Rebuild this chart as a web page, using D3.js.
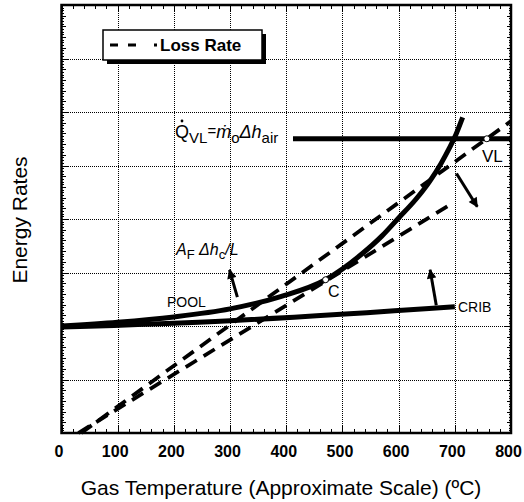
<!DOCTYPE html>
<html>
<head>
<meta charset="utf-8">
<script src="https://cdn.jsdelivr.net/npm/d3@7"></script>
<style>
  html, body { margin: 0; padding: 0; background: #fff; }
  svg { display: block; font-family: "Liberation Sans", Arial, Helvetica, sans-serif; }
</style>
</head>
<body>
<svg id="chart" width="524" height="502"></svg>
<script>
// Axis ticks
const tempTicks = [0, 100, 200, 300, 400, 500, 600, 700, 800];
const rateGrid = [1, 2, 3, 4, 5, 6, 7];

// Heat release rate, pool fire (solid)
const poolTemp = [0, 100, 200, 300, 390, 470, 535, 570, 600, 630, 655, 675, 690, 702, 714];
const poolRate = [2.00, 2.07, 2.17, 2.32, 2.55, 2.865, 3.35, 3.68, 4.02, 4.36, 4.70, 5.03, 5.32, 5.58, 5.90];

// Heat release rate, crib fire (solid)
const cribTemp = [0, 300, 700];
const cribRate = [1.98, 2.10, 2.36];

// Loss rate lines (dashed)
const lossUpperTemp = [35, 800];
const lossUpperRate = [0, 5.83];
const lossLowerTemp = [30, 695];
const lossLowerRate = [0, 4.29];

// Ventilation limit  Q_VL = m_o * dh_air
const ventTemp = [412, 800];
const ventRate = [5.5, 5.5];

// Marked points: C (critical) and VL
const pointTemp = [470, 757];
const pointRate = [2.865, 5.5];

// Shift arrows
const arrowTailTemp = [313, 667, 703];
const arrowTailRate = [2.54, 2.39, 4.85];
const arrowHeadTemp = [299, 656, 740];
const arrowHeadRate = [3.05, 3.05, 4.23];

const svg = d3.select("#chart");
const pLeft = 61.5, pRight = 511, pTop = 5, pBottom = 433;

const x = d3.scaleLinear().domain([0, 800]).range([pLeft, pRight]);
const y = d3.scaleLinear().domain([0, 8]).range([pBottom, pTop]);
const px = v => Math.round(v) + 0.5;

// dotted grid
const grid = svg.append("g").attr("stroke", "#000").attr("stroke-width", 1)
  .attr("stroke-dasharray", "1,1").attr("shape-rendering", "crispEdges");
tempTicks.slice(1, -1).forEach(t => {
  grid.append("line").attr("x1", px(x(t))).attr("x2", px(x(t))).attr("y1", pTop).attr("y2", pBottom);
});
rateGrid.forEach(r => {
  grid.append("line").attr("x1", pLeft).attr("x2", pRight).attr("y1", px(y(r))).attr("y2", px(y(r)));
});

// tick marks on all four sides, pointing inward
const ticks = svg.append("g").attr("stroke", "#000").attr("stroke-width", 1)
  .attr("shape-rendering", "crispEdges");
d3.range(0, 801, 20).forEach(t => {
  const len = t % 100 === 0 ? 7 : 4;
  ticks.append("line").attr("x1", px(x(t))).attr("x2", px(x(t))).attr("y1", pBottom).attr("y2", pBottom - len);
  ticks.append("line").attr("x1", px(x(t))).attr("x2", px(x(t))).attr("y1", pTop).attr("y2", pTop + len);
});
d3.range(0, 161).forEach(i => {
  const r = i * 0.05;
  const len = i % 20 === 0 ? 7 : (i % 4 === 0 ? 4 : 2);
  ticks.append("line").attr("x1", pLeft).attr("x2", pLeft + len).attr("y1", px(y(r))).attr("y2", px(y(r)));
  ticks.append("line").attr("x1", pRight).attr("x2", pRight - len).attr("y1", px(y(r))).attr("y2", px(y(r)));
});

// frame
svg.append("rect").attr("x", pLeft).attr("y", pTop)
  .attr("width", pRight - pLeft).attr("height", pBottom - pTop)
  .attr("fill", "none").attr("stroke", "#000").attr("stroke-width", 2.5);

// x tick labels
const xAxis = d3.axisBottom(x).tickValues(tempTicks).tickSize(0).tickPadding(13);
const gx = svg.append("g").attr("transform", `translate(-3,${pBottom})`).call(xAxis);
gx.select(".domain").remove();
gx.selectAll("text").attr("font-size", 16).attr("font-weight", "bold")
  .attr("font-family", "Liberation Sans, Arial, sans-serif").attr("fill", "#000");

// axis titles
svg.append("text").attr("x", 281).attr("y", 495).attr("text-anchor", "middle")
  .attr("font-size", 21).text("Gas Temperature (Approximate Scale) (ºC)");
svg.append("text").attr("transform", "translate(27,220) rotate(-90)")
  .attr("text-anchor", "middle").attr("font-size", 21).text("Energy Rates");

const line = d3.line().x(d => x(d[0])).y(d => y(d[1]));
const zip = (a, b) => a.map((v, i) => [v, b[i]]);

// loss rate lines
svg.append("path").datum(zip(lossUpperTemp, lossUpperRate))
  .attr("d", line).attr("fill", "none").attr("stroke", "#000")
  .attr("stroke-width", 3.8).attr("stroke-dasharray", "13,8");
svg.append("path").datum(zip(lossLowerTemp, lossLowerRate))
  .attr("d", line).attr("fill", "none").attr("stroke", "#000")
  .attr("stroke-width", 3.8).attr("stroke-dasharray", "13,8");

// heat release curves
const smooth = d3.line().x(d => x(d[0])).y(d => y(d[1])).curve(d3.curveMonotoneX);
svg.append("path").datum(zip(cribTemp, cribRate))
  .attr("d", smooth).attr("fill", "none").attr("stroke", "#000").attr("stroke-width", 5);
svg.append("path").datum(zip(poolTemp, poolRate))
  .attr("d", smooth).attr("fill", "none").attr("stroke", "#000").attr("stroke-width", 5);

// ventilation limit
svg.append("path").datum(zip(ventTemp, ventRate))
  .attr("d", line).attr("fill", "none").attr("stroke", "#000").attr("stroke-width", 5);

// arrows
const defs = svg.append("defs");
defs.append("marker").attr("id", "head").attr("viewBox", "0 0 10 10")
  .attr("refX", 9).attr("refY", 5).attr("markerWidth", 3.6).attr("markerHeight", 3.2)
  .attr("markerUnits", "strokeWidth").attr("orient", "auto")
  .append("path").attr("d", "M0,0L10,5L0,10Z").attr("fill", "#000");
arrowTailTemp.forEach((t, i) => {
  svg.append("line")
    .attr("x1", x(t)).attr("y1", y(arrowTailRate[i]))
    .attr("x2", x(arrowHeadTemp[i])).attr("y2", y(arrowHeadRate[i]))
    .attr("stroke", "#000").attr("stroke-width", 3).attr("marker-end", "url(#head)");
});

// marked points
pointTemp.forEach((t, i) => {
  svg.append("circle").attr("cx", x(t)).attr("cy", y(pointRate[i])).attr("r", 3)
    .attr("fill", "#fff").attr("stroke", "#000").attr("stroke-width", 1);
});

// annotations
svg.append("text").attr("x", 167).attr("y", 307).attr("font-size", 14).text("POOL");
svg.append("text").attr("x", 458).attr("y", 312).attr("font-size", 14).text("CRIB");
svg.append("text").attr("x", 328).attr("y", 297).attr("font-size", 16).text("C");
svg.append("text").attr("x", 482).attr("y", 162).attr("font-size", 17).text("VL");

const af = svg.append("text").attr("x", 176).attr("y", 255).attr("font-size", 16);
af.append("tspan").attr("font-style", "italic").text("A");
af.append("tspan").attr("font-size", 13).attr("dy", 4).text("F");
af.append("tspan").attr("dy", -4).attr("font-style", "italic").text(" Δh");
af.append("tspan").attr("font-size", 13).attr("dy", 4).text("c");
af.append("tspan").attr("dy", -4).attr("font-style", "italic").text("/L");

const qv = svg.append("text").attr("x", 175).attr("y", 138).attr("font-size", 18);
qv.append("tspan").text("Q");
qv.append("tspan").attr("font-size", 15).attr("dy", 5).text("VL");
qv.append("tspan").attr("font-size", 15).attr("dy", -7).text("=");
qv.append("tspan").attr("dy", 2).attr("font-style", "italic").text("ṁ");
qv.append("tspan").attr("font-size", 15).attr("dy", 5).text("o");
qv.append("tspan").attr("dy", -5).attr("font-style", "italic").text("Δh");
qv.append("tspan").attr("font-size", 15).attr("dy", 5).text("air");
svg.append("circle").attr("cx", 182).attr("cy", 121).attr("r", 1.4).attr("fill", "#000");

// legend
const lg = svg.append("g");
lg.append("rect").attr("x", 107).attr("y", 34).attr("width", 159).attr("height", 30).attr("fill", "#000");
lg.append("rect").attr("x", 103).attr("y", 30).attr("width", 159).attr("height", 30)
  .attr("fill", "#fff").attr("stroke", "#000").attr("stroke-width", 1.5);
lg.append("line").attr("x1", 110).attr("x2", 157).attr("y1", 45).attr("y2", 45)
  .attr("stroke", "#000").attr("stroke-width", 3).attr("stroke-dasharray", "8,10,8,18");
lg.append("text").attr("x", 160).attr("y", 51).attr("font-size", 17).attr("font-weight", "bold")
  .text("Loss Rate");
</script>
</body>
</html>
